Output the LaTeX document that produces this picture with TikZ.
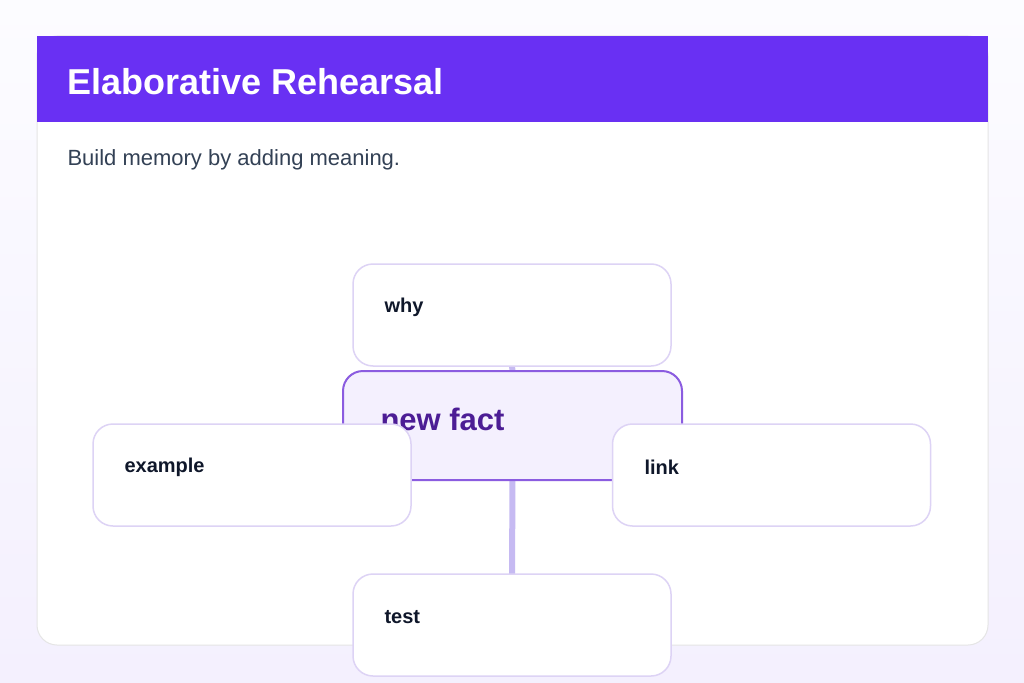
\documentclass[tikz,border=0pt]{standalone}
\usepackage{fontspec}
\setmainfont{Liberation Sans}
\begin{document}
\definecolor{hdr}{HTML}{6930F3}
\definecolor{bd}{HTML}{DDD3F5}
\definecolor{cbd}{HTML}{8B5CE0}
\definecolor{cfill}{HTML}{F4F0FE}
\definecolor{conn}{HTML}{C6BAF2}
\definecolor{sub}{HTML}{334155}
\definecolor{ink}{HTML}{0F172A}
\definecolor{fact}{HTML}{4C1D95}
\begin{tikzpicture}[x=1pt,y=-1pt,
  child/.style={draw=bd,line width=1.5pt,fill=white,rounded corners=20pt,minimum width=318pt,minimum height=102pt,inner sep=0pt},
  lab/.style={anchor=west,font=\fontsize{20}{24}\selectfont\bfseries,text=ink},
  link/.style={draw=conn,line width=6pt}]
\useasboundingbox (0,0) rectangle (1024,682);
\shade[top color=white!97!blue!40!white,bottom color=cfill] (0,0) rectangle (1024,682);
\fill[white,draw=black!10,line width=1pt,rounded corners=20pt] (37,36) rectangle (988,645);
\fill[hdr] (37,36) rectangle (988,122);
\node[anchor=west,text=white,font=\fontsize{36}{40}\selectfont\bfseries] (title) at (64,82) {Elaborative Rehearsal};
\node[anchor=west,text=sub,font=\fontsize{22}{26}\selectfont] (subtitle) at (64,160) {Build memory by adding meaning.};
\coordinate (c) at (512.5,425.5);
\coordinate (cw) at (512,315);
\coordinate (ct) at (512,625);
\coordinate (ce) at (252,475);
\coordinate (cl) at (771.5,475);
\draw[link] (c) -- (cw); \draw[link] (c) -- (ct);
\draw[link] (c) -- (ce); \draw[link] (c) -- (cl);
\node[draw=cbd,line width=2pt,fill=cfill,rounded corners=20pt,minimum width=339pt,minimum height=109pt] (center) at (c) {};
\node[anchor=west,text=fact,font=\fontsize{31}{36}\selectfont\bfseries] at (377,419) {new fact};
\node[child] (why) at (cw) {};
\node[child] (test) at (ct) {};
\node[child] (ex) at (ce) {};
\node[child] (lk) at (cl) {};
\node[lab] at (381,307) {why};
\node[lab] at (381,617) {test};
\node[lab] at (121,467) {example};
\node[lab] at (641,467) {link};
\end{tikzpicture}
\end{document}
